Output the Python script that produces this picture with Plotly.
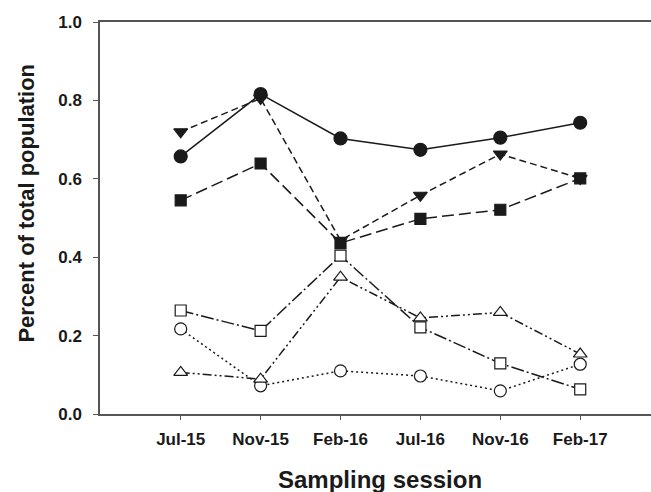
import plotly.graph_objects as go

sessions = ["Jul-15", "Nov-15", "Feb-16", "Jul-16", "Nov-16", "Feb-17"]
filled_circle = [0.657, 0.816, 0.703, 0.674, 0.705, 0.743]
filled_tri_down = [0.720, 0.805, 0.443, 0.558, 0.663, 0.601]
filled_square = [0.545, 0.639, 0.436, 0.498, 0.521, 0.601]
open_square = [0.264, 0.212, 0.404, 0.221, 0.129, 0.063]
open_tri_up = [0.106, 0.089, 0.349, 0.245, 0.259, 0.153]
open_circle = [0.217, 0.072, 0.110, 0.097, 0.059, 0.127]

y_ticks = [0.0, 0.2, 0.4, 0.6, 0.8, 1.0]

FONT = "Liberation Sans, Arial, sans-serif"
INK = "#1a1a1a"

series = [
    # (values, symbol, filled, size, dash)
    (open_circle, "circle", False, 12, "2px,3px"),
    (open_tri_up, "triangle-up", False, 12, "9px,3px,2px,3px,2px,3px"),
    (open_square, "square", False, 11, "13px,3px,2px,3px"),
    (filled_tri_down, "triangle-down", True, 12, "7px,4px"),
    (filled_square, "square", True, 11, "12px,5px"),
    (filled_circle, "circle", True, 13, "solid"),
]

fig = go.Figure()
for vals, sym, filled, size, dash in series:
    fig.add_trace(go.Scatter(
        x=sessions, y=vals, mode="lines+markers",
        line=dict(color=INK, width=1.5, dash=dash),
        marker=dict(symbol=sym, size=size,
                    color=INK if filled else "white",
                    line=dict(color=INK, width=1.2)),
        showlegend=False, cliponaxis=False,
    ))

fig.update_layout(
    width=651, height=492,
    margin=dict(l=100, r=0, t=22, b=78),
    paper_bgcolor="white", plot_bgcolor="white",
    font=dict(family=FONT, color=INK),
    xaxis=dict(
        type="category", range=[-1.01, 5.886],
        showline=True, linecolor="#555", linewidth=1.5, mirror=True,
        ticks="outside", ticklen=4, tickcolor="#555", tickwidth=1,
        tickfont=dict(family=FONT, size=17, color=INK, weight="bold"),
        ticklabelstandoff=5,
        showgrid=False, zeroline=False,
    ),
    yaxis=dict(
        range=[0, 1.0], tickvals=y_ticks, tickformat=".1f",
        showline=True, linecolor="#555", linewidth=1.5,
        ticks="outside", ticklen=5, tickcolor="#555", tickwidth=1,
        tickfont=dict(family=FONT, size=17, color=INK, weight="bold"),
        ticklabelstandoff=8,
        showgrid=False, zeroline=False,
    ),
    annotations=[
        dict(text="Percent of total population", xref="paper", yref="paper",
             x=-0.1334, y=0.538, xanchor="center", yanchor="middle",
             textangle=-90, showarrow=False,
             font=dict(family=FONT, size=22, color=INK, weight="bold")),
        dict(text="Sampling session", xref="paper", yref="paper",
             x=0.508, y=-0.166, xanchor="center", yanchor="middle",
             showarrow=False,
             font=dict(family=FONT, size=24, color=INK, weight="bold")),
    ],
)

fig.write_html("out.html",
               config={"displayModeBar": False},
               post_script="document.body.style.margin='0';document.body.style.overflow='hidden';")
